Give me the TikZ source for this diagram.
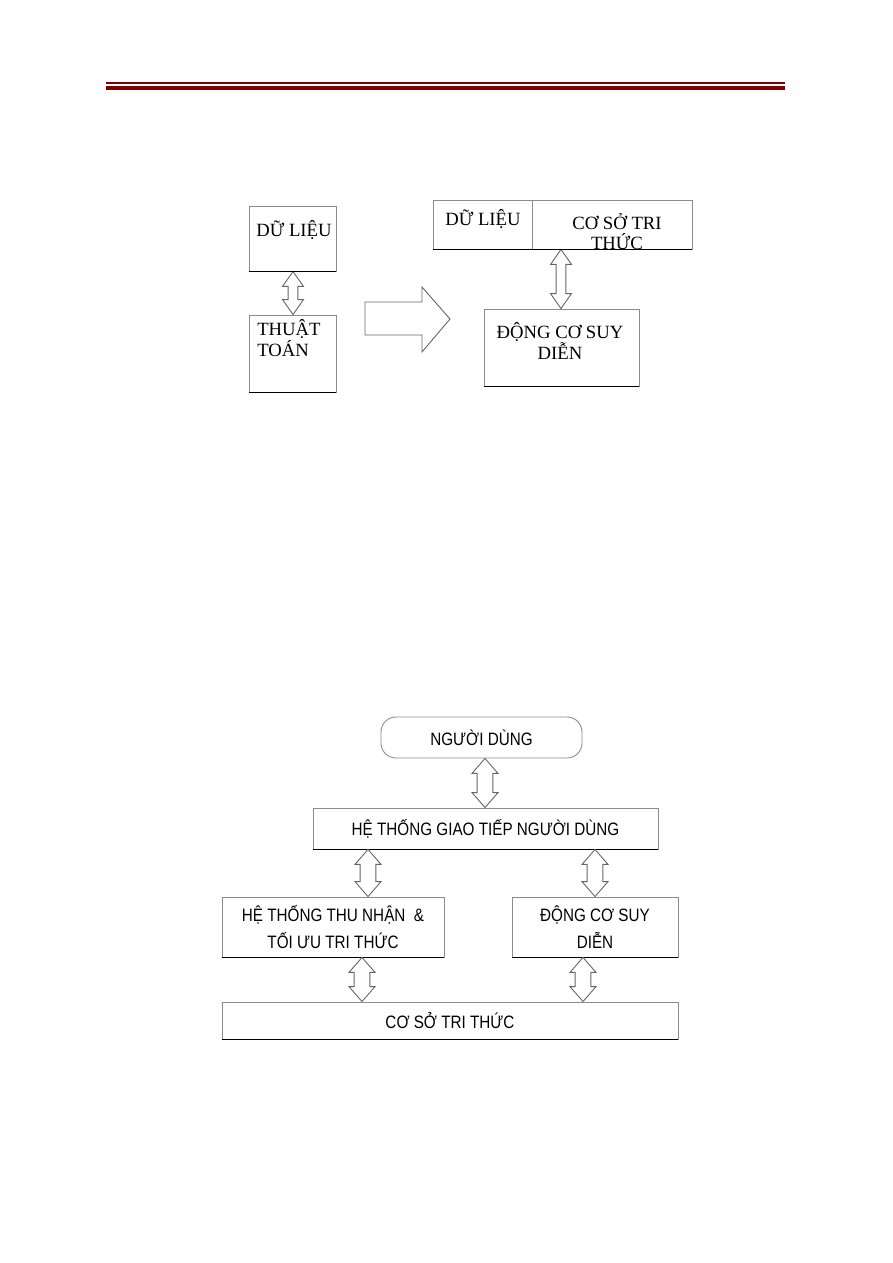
\documentclass[tikz,border=0pt]{standalone}
\usepackage{fontspec}
\setmainfont{Liberation Serif}
\newfontfamily\narrowsans[FakeStretch=0.85]{Liberation Sans}
\usetikzlibrary{calc, fit}
\definecolor{HeadRed}{RGB}{128, 0, 0}

\begin{document}
\begin{tikzpicture}[x=0.0235cm, y=-0.0235cm,
                box/.style={draw=black!45, line width=0.6pt, inner sep=0pt},
                serif/.style={font=\fontsize{12.5}{13.5}\selectfont, inner sep=0pt},
                sans/.style={font=\narrowsans\fontsize{12}{17.6}\selectfont, align=center, inner sep=0pt},
                dbl/.style n args={3}{draw=black!60, line width=0.6pt, fill=white,
                    to path={let \p1=(\tikztostart), \p2=(\tikztotarget) in
                        (\x1,\y1) -- (\x1+#1,\y1-#3) -- (\x1+#2,\y1-#3) -- (\x1+#2,\y2+#3)
                        -- (\x1+#1,\y2+#3) -- (\x1,\y2) -- (\x1-#1,\y2+#3) -- (\x1-#2,\y2+#3)
                        -- (\x1-#2,\y1-#3) -- (\x1-#1,\y1-#3) -- cycle}},
                thin dbl/.style={dbl={7pt}{3.3pt}{10pt}},
                wide dbl/.style={dbl={8.7pt}{5.3pt}{10pt}}
            ]
                \useasboundingbox (0,0) rectangle (893,1263);

                % Header rule
                \draw[HeadRed, line width=1.2pt] (106,83) -- (785,83);
                \fill[HeadRed] (106,86) rectangle (785,90);

                % Top diagram: before
                \node[box, fit={(249,206) (336,271)}] (dl) {};
                \node[box, fit={(249,315) (336,392)}] (tt) {};
                \node[serif] at (294,230) {DỮ LIỆU};
                \node[serif, anchor=west, align=left, font=\fontsize{12.5}{12.5}\selectfont] at (257,338) {THUẬT\\TOÁN};
                \draw[thin dbl] (dl.south -| 293,0) to (tt.north -| 293,0);

                % Big arrow
                \draw[draw=black!60, line width=0.6pt] (365,302) -- (422,302) -- (422,287) -- (450,319)
                    -- (422,352) -- (422,335) -- (365,335) -- cycle;

                % Top diagram: after
                \node[box, fit={(433,200) (532,249)}] (kdl) {};
                \node[box, fit={(532,200) (692,249)}] (kcs) {};
                \node[box, fit={(484,309) (639,386)}] (kdc) {};
                \node[serif] at (483,219) {DỮ LIỆU};
                \node[serif, align=center] at (617,232) {CƠ SỞ TRI\\THỨC};
                \node[serif, align=center, font=\fontsize{12.5}{14}\selectfont] at (560,341) {ĐỘNG CƠ SUY\\DIỄN};
                \draw[thin dbl] (kcs.south -| 561,0) to (kdc.north -| 561,0);

                % Bottom diagram
                \node[box, rounded corners=10pt, fit={(381,717) (582,758)}] (nd) {};
                \node[box, fit={(313,808) (658,849)}] (gt) {};
                \node[box, fit={(222,897) (444,957)}] (tn) {};
                \node[box, fit={(512,897) (678,957)}] (dc) {};
                \node[box, fit={(222,1002) (678,1039)}] (cs) {};
                \node[sans] at (nd.center) {NGƯỜI DÙNG};
                \node[sans] at (gt.center) {HỆ THỐNG GIAO TIẾP NGƯỜI DÙNG};
                \node[sans] at (tn.center) {HỆ THỐNG THU NHẬN\ \ \&\\TỐI ƯU TRI THỨC};
                \node[sans] at (dc.center) {ĐỘNG CƠ SUY\\DIỄN};
                \node[sans] at (cs.center) {CƠ SỞ TRI THỨC};

                % Darker lower edges
                \foreach \n in {dl, tt, kdl, kcs, kdc, gt, tn, dc, cs}
                    \draw[line width=0.6pt] (\n.south west) -- (\n.south east);

                \draw[wide dbl] (nd.south -| 485,0) to (gt.north -| 485,0);
                \draw[wide dbl] (gt.south -| 368,0) to (tn.north -| 368,0);
                \draw[wide dbl] (gt.south -| 595,0) to (dc.north -| 595,0);
                \draw[wide dbl] (tn.south -| 362,0) to (cs.north -| 362,0);
                \draw[wide dbl] (dc.south -| 583,0) to (cs.north -| 583,0);
            \end{tikzpicture}
\end{document}
